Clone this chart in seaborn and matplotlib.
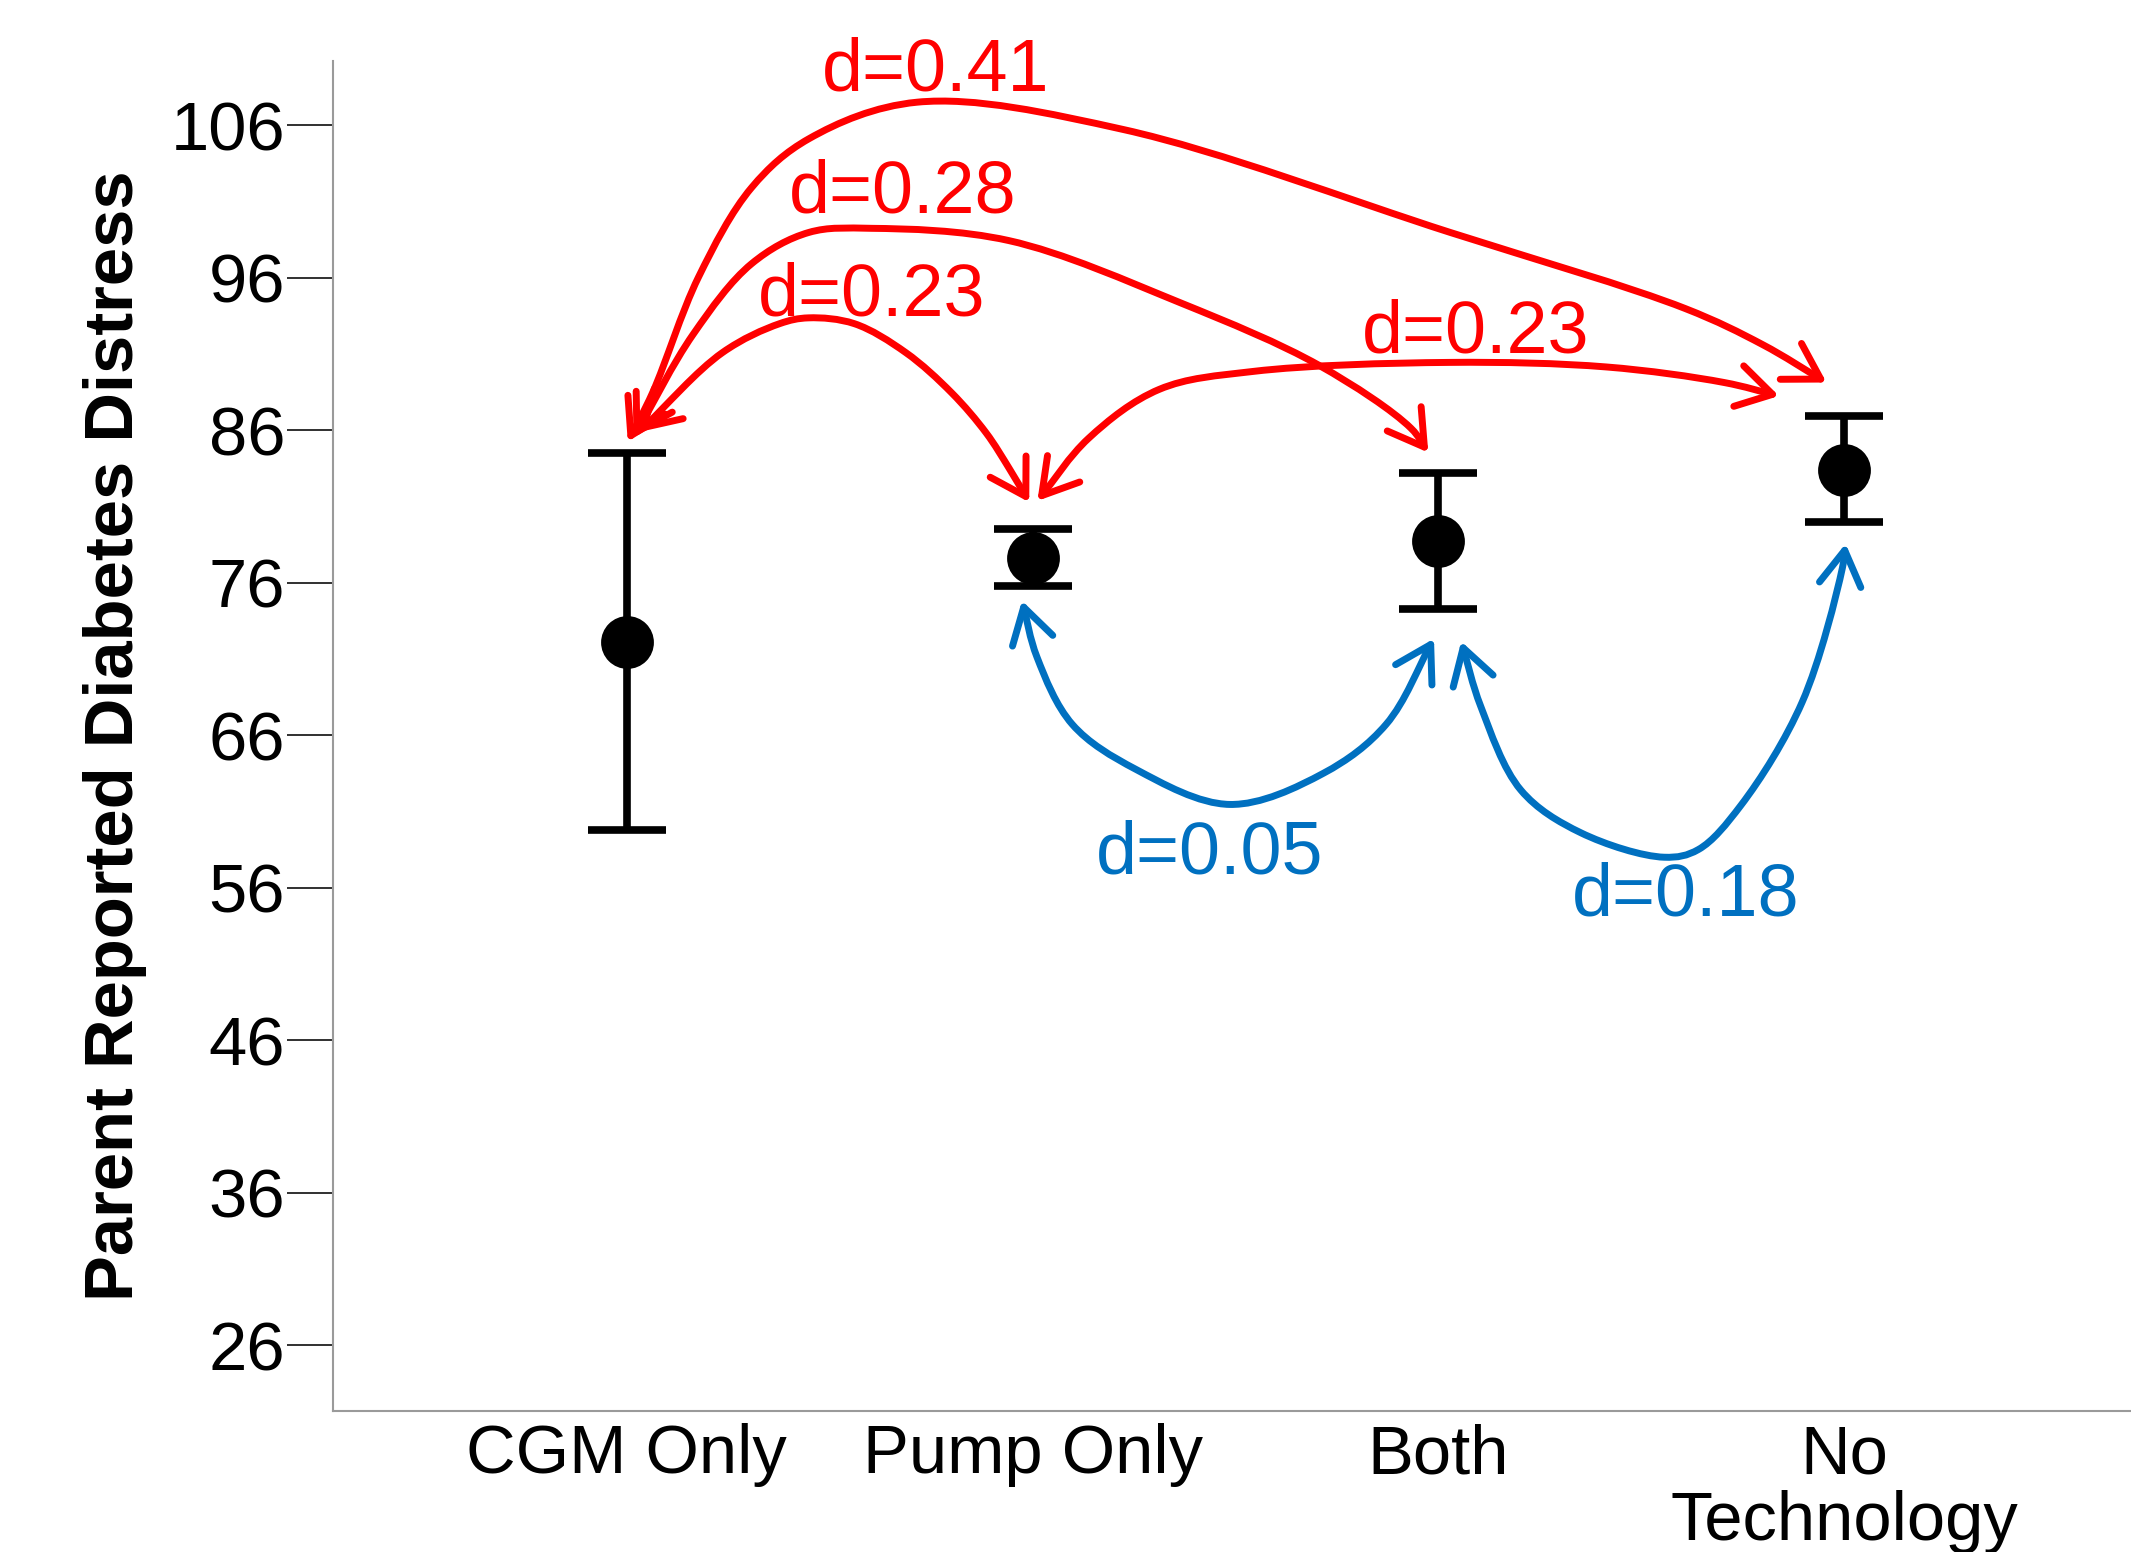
import numpy as np
import pandas as pd
import matplotlib
matplotlib.use("Agg")
import matplotlib.pyplot as plt
import seaborn as sns
from matplotlib.path import Path
from matplotlib.patches import FancyArrowPatch
from matplotlib.transforms import IdentityTransform

# ---------------- data ----------------
groups = ["CGM Only", "Pump Only", "Both", "No\nTechnology"]
means = [72.1, 77.6, 78.7, 83.4]
ci_low = [59.8, 75.8, 74.3, 80.0]
ci_high = [84.5, 79.5, 83.2, 86.9]
yticks = [26, 36, 46, 56, 66, 76, 86, 96, 106]
ylabel = "Parent Reported Diabetes Distress"

effect_labels = ["d=0.41", "d=0.28", "d=0.23", "d=0.23", "d=0.05", "d=0.18"]
effect_colors = ["#FF0000", "#FF0000", "#FF0000", "#FF0000", "#0070C0", "#0070C0"]
# label anchor (x in category units, y baseline in data units)
label_x = [0.761, 0.680, 0.603, 2.092, 1.4375, 2.608]
label_y = [108.25, 100.3, 93.51, 91.1, 56.92, 54.2]

# annotation arrow way-points (category units, data units)
arrow_paths = [
    [(0.003, 85.24), (0.064, 88.45), (0.177, 96.02), (0.308, 101.9), (0.449, 105.1),
     (0.716, 107.5), (1.225, 105.7), (2.029, 98.96), (2.608, 93.97), (2.799, 91.6),
     (2.956, 89.12)],
    [(0.017, 85.51), (0.164, 92.28), (0.308, 96.91), (0.449, 98.96),
     (0.603, 99.23), (0.941, 98.43), (1.366, 94.33), (1.707, 90.23), (1.932, 86.13),
     (1.975, 84.53)],
    [(0.030, 85.87), (0.236, 91.08), (0.377, 92.98), (0.448, 93.36), (0.561, 92.98),
     (0.688, 91.08), (0.801, 88.44), (0.886, 85.81), (0.943, 83.47), (0.992, 81.27)],
    [(1.012, 81.36), (1.138, 85.46), (1.312, 88.67), (1.544, 89.85), (2.027, 90.44),
     (2.414, 90.14), (2.704, 89.12), (2.839, 88.24)],
    [(0.974, 74.82), (1.011, 71.12), (1.098, 66.71), (1.254, 63.77), (1.486, 61.46),
     (1.717, 63.51), (1.871, 66.71), (1.989, 72.33)],
    [(2.056, 72.15), (2.104, 67.9), (2.203, 62.4), (2.351, 59.6), (2.556, 58.0),
     (2.640, 58.5), (2.745, 61.4), (2.896, 68.17), (2.995, 76.96), (3.003, 78.56)],
]


def centripetal_path(pix, alpha=0.5):
    """Smooth Bezier path (display px) through the given pixel way-points."""
    P = np.asarray(pix, float)
    ext = np.vstack([2 * P[0] - P[1], P, 2 * P[-1] - P[-2]])
    verts = [P[0]]
    codes = [Path.MOVETO]
    for i in range(1, len(ext) - 2):
        p0, p1, p2, p3 = ext[i - 1], ext[i], ext[i + 1], ext[i + 2]
        d1 = max(np.linalg.norm(p1 - p0), 1e-6) ** alpha
        d2 = max(np.linalg.norm(p2 - p1), 1e-6) ** alpha
        d3 = max(np.linalg.norm(p3 - p2), 1e-6) ** alpha
        b1 = (d1 ** 2 * p2 - d2 ** 2 * p0 + (2 * d1 ** 2 + 3 * d1 * d2 + d2 ** 2) * p1) / (3 * d1 * (d1 + d2))
        b2 = (d3 ** 2 * p1 - d2 ** 2 * p3 + (2 * d3 ** 2 + 3 * d3 * d2 + d2 ** 2) * p2) / (3 * d3 * (d3 + d2))
        verts += [b1, b2, p2]
        codes += [Path.CURVE4] * 3
    return Path(np.array(verts), codes)


# ---------------- style ----------------
sns.set_style("ticks")
plt.rcParams["font.family"] = ["Liberation Sans", "DejaVu Sans"]
plt.rcParams["text.color"] = "black"
plt.rcParams["axes.labelcolor"] = "black"

fig = plt.figure(figsize=(21.31, 15.52), dpi=100)
ax = fig.add_axes([0.1563, 0.0909, 0.8437, 0.8698])

df = pd.DataFrame({"group": groups, "mean": means})
x = np.arange(len(groups))
m = np.array(means)
ax.errorbar(x, m, yerr=[m - np.array(ci_low), np.array(ci_high) - m], fmt="none",
            ecolor="black", elinewidth=5.5, capsize=28, capthick=5.5, zorder=2)
sns.pointplot(data=df, x="group", y="mean", order=groups, linestyle="none",
              marker="o", markersize=36, color="black", errorbar=None, ax=ax, zorder=3)

ax.set_xlim(-0.723, 3.706)
ax.set_ylim(21.7, 110.2)
ax.set_yticks(yticks)
ax.set_yticklabels([str(t) for t in yticks])
ax.set_xlabel("")
ax.set_ylabel(ylabel, fontsize=49.5, fontweight="bold", color="black")
ax.yaxis.set_label_coords(-0.1035, 0.5)

for lab in ax.get_xticklabels():
    lab.set_linespacing(1.05)

ax.tick_params(axis="y", length=33, width=1.4, color="#303030", pad=1.5,
               labelsize=49.5, labelcolor="black")
ax.tick_params(axis="x", length=0, pad=9, labelsize=49.5, labelcolor="black")
sns.despine(ax=ax)
for s in ["left", "bottom"]:
    ax.spines[s].set_color("#9a9a9a")
    ax.spines[s].set_linewidth(1.5)
ax.grid(False)

for pts, col in zip(arrow_paths, effect_colors):
    pix = ax.transData.transform(np.asarray(pts, float))
    arr = FancyArrowPatch(path=centripetal_path(pix),
                          arrowstyle="<->,head_length=1.0,head_width=0.6",
                          mutation_scale=25, lw=5, color=col, zorder=4,
                          transform=IdentityTransform())
    ax.add_patch(arr)

for s, xx, yy, col in zip(effect_labels, label_x, label_y, effect_colors):
    ax.text(xx, yy, s, color=col, fontsize=53, ha="center", va="baseline", zorder=5)

fig.savefig("out.png", dpi=100)
